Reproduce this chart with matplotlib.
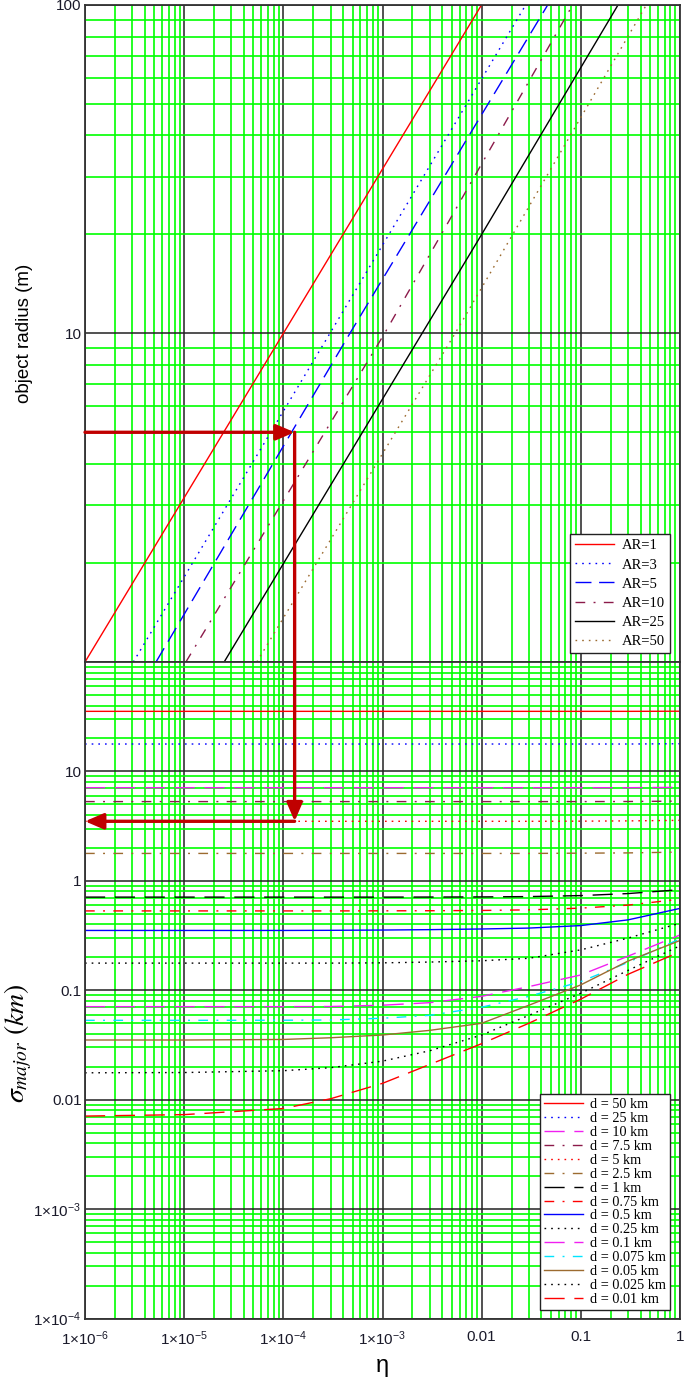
"""
Two-panel log-log chart: object radius vs eta (top) and sigma_major vs eta (bottom),
drawn in the Mathcad look (green minor grid, black decade grid).

    python plot.py   ->  out.png
"""

import matplotlib

matplotlib.use("Agg")
import matplotlib.pyplot as plt
from matplotlib.patches import ConnectionPatch
from matplotlib.ticker import FixedLocator, NullFormatter

plt.rcParams["font.family"] = ["Liberation Sans", "DejaVu Sans"]
plt.rcParams["mathtext.fontset"] = "custom"
plt.rcParams["mathtext.rm"] = "Liberation Sans"
plt.rcParams["mathtext.it"] = "Liberation Sans:italic"

# -- top panel: object radius (m) for each aspect ratio ---------------------
ar_labels = ["AR=1", "AR=3", "AR=5", "AR=10", "AR=25", "AR=50"]
ar1_eta, ar1_radius = [1e-6, 1e-4, 1e-2], [1, 10, 100]
ar3_eta, ar3_radius = [3.07e-6, 2.95e-4, 0.0279], [1, 10, 100]
ar5_eta, ar5_radius = [5.2e-6, 4.69e-4, 0.0465], [1, 10, 100]
ar10_eta, ar10_radius = [1.04e-5, 1.05e-3, 0.083], [1, 10, 100]
ar25_eta, ar25_radius = [2.53e-5, 0.01, 0.238], [1, 20, 100]
ar50_eta, ar50_radius = [5.4e-5, 5.4e-3, 0.459], [1, 10, 100]

# -- bottom panel: sigma_major (km) for each distance d ----------------------
d_labels = ["d = 50 km", "d = 25 km", "d = 10 km", "d = 7.5 km", "d = 5 km",
            "d = 2.5 km", "d = 1 km", "d = 0.75 km", "d = 0.5 km", "d = 0.25 km",
            "d = 0.1 km", "d = 0.075 km", "d = 0.05 km", "d = 0.025 km",
            "d = 0.01 km"]
eta_grid = [1e-6, 1e-5, 1e-4, 3e-4, 1e-3, 3e-3, 1e-2, 3e-2, 0.1, 0.3, 1.0]
sigma_50km = [35.4, 35.4, 35.4, 35.4, 35.4, 35.4, 35.4, 35.4, 35.4, 35.4, 35.5]
sigma_25km = [17.8, 17.8, 17.8, 17.8, 17.8, 17.8, 17.8, 17.8, 17.8, 17.8, 17.9]
sigma_10km = [7.1, 7.1, 7.1, 7.1, 7.1, 7.1, 7.1, 7.1, 7.1, 7.1, 7.15]
sigma_7_5km = [5.3, 5.3, 5.3, 5.3, 5.3, 5.3, 5.3, 5.3, 5.3, 5.31, 5.35]
sigma_5km = [3.5, 3.5, 3.5, 3.5, 3.5, 3.5, 3.5, 3.5, 3.51, 3.53, 3.57]
sigma_2_5km = [1.78, 1.78, 1.78, 1.78, 1.78, 1.78, 1.78, 1.78, 1.79, 1.80, 1.83]
sigma_1km = [0.71, 0.71, 0.71, 0.71, 0.71, 0.711, 0.713, 0.718, 0.733, 0.765, 0.83]
sigma_0_75km = [0.531, 0.531, 0.531, 0.531, 0.532, 0.533, 0.536, 0.543, 0.563, 0.60, 0.68]
sigma_0_5km = [0.352, 0.352, 0.352, 0.353, 0.355, 0.358, 0.363, 0.37, 0.39, 0.44, 0.56]
sigma_0_25km = [0.177, 0.177, 0.177, 0.177, 0.178, 0.181, 0.186, 0.196, 0.234, 0.30, 0.41]
sigma_0_1km = [0.0708, 0.0708, 0.0708, 0.071, 0.073, 0.077, 0.088, 0.108, 0.138, 0.205, 0.32]
sigma_0_075km = [0.0531, 0.0531, 0.0532, 0.0535, 0.0555, 0.059, 0.070, 0.088, 0.12, 0.18, 0.295]
sigma_0_05km = [0.0351, 0.0351, 0.0355, 0.0368, 0.039, 0.043, 0.0499, 0.073, 0.112, 0.185, 0.285]
sigma_0_025km = [0.0176, 0.0177, 0.0184, 0.0196, 0.0225, 0.028, 0.039, 0.059, 0.094, 0.152, 0.255]
sigma_0_01km = [0.00708, 0.0073, 0.0083, 0.0102, 0.0141, 0.021, 0.0325, 0.05, 0.083, 0.14, 0.225]

# the worked example drawn with the red arrows
arrow_eta = 1.3e-4
arrow_radius = 5.0
arrow_sigma = 3.5

x_ticks = [1e-6, 1e-5, 1e-4, 1e-3, 1e-2, 0.1, 1]
x_ticklabels = ["1\u00d710$^{-6}$", "1\u00d710$^{-5}$", "1\u00d710$^{-4}$",
                "1\u00d710$^{-3}$", "0.01", "0.1", "1"]
top_yticks = [10, 100]
top_yticklabels = ["10", "100"]
bot_yticks = [1e-4, 1e-3, 0.01, 0.1, 1, 10]
bot_yticklabels = ["1\u00d710$^{-4}$", "1\u00d710$^{-3}$", "0.01", "0.1", "1", "10"]

# -- styles --------------------------------------------------------------------
RED, BLUE, MAGENTA, MAROON = "#FF0000", "#0000FF", "#F020F0", "#8B1A4A"
BROWN, CYAN, BLACK = "#9C6B30", "#00E5FF", "#000000"
DOT = (0, (1.2, 3.6))
DASH = (0, (14.5, 7.0))
DASHDOT = (0, (7.0, 6.0, 1.4, 6.0))
TOP_DASH = (0, (11.5, 5.5))

ar_styles = [(RED, "-"), (BLUE, DOT), (BLUE, TOP_DASH), (MAROON, DASHDOT),
             (BLACK, "-"), (BROWN, DOT)]
d_styles = [(RED, "-"), (BLUE, DOT), (MAGENTA, DASH), (MAROON, DASHDOT),
            (RED, DOT), (BROWN, DASHDOT), (BLACK, DASH), (RED, DASHDOT),
            (BLUE, "-"), (BLACK, DOT), (MAGENTA, DASH), (CYAN, DASHDOT),
            (BROWN, "-"), (BLACK, DOT), (RED, DASH)]

GRID_GREEN = "#00FF00"
ARROW_RED = "#C00000"
minor_subs = [2, 3, 4, 5, 6, 7, 8, 9]


def _mathcad_axes(ax, y_decades):
    ax.set_xscale("log")
    ax.set_yscale("log")
    ax.set_xlim(1e-6, 1)
    x_minor = [m * 10.0 ** e for e in range(-6, 0) for m in minor_subs]
    y_minor = [m * 10.0 ** e for e in y_decades for m in minor_subs]
    ax.xaxis.set_minor_locator(FixedLocator(x_minor))
    ax.yaxis.set_minor_locator(FixedLocator(y_minor))
    ax.xaxis.set_minor_formatter(NullFormatter())
    ax.yaxis.set_minor_formatter(NullFormatter())
    ax.grid(which="minor", color=GRID_GREEN, lw=1.2)
    ax.grid(which="major", color="#222222", lw=1.1)
    ax.set_axisbelow(True)
    ax.tick_params(which="both", length=0, labelsize=11, labelcolor="#1a1a2a")
    ax.tick_params(axis="y", pad=2.5)
    ax.tick_params(axis="x", pad=8)
    for s in ax.spines.values():
        s.set_color("#333333")
        s.set_linewidth(1.3)


fig = plt.figure(figsize=(6.85, 13.9), dpi=100)
left, right = 85 / 685, 680 / 685
ax_top = fig.add_axes([left, 1 - 662 / 1390, right - left, (662 - 4.7) / 1390])
ax_bot = fig.add_axes([left, 1 - 1318.5 / 1390, right - left, (1318.5 - 662) / 1390])

# top panel
_mathcad_axes(ax_top, [0, 1])
ax_top.set_ylim(1, 100)
top_series = [(ar1_eta, ar1_radius), (ar3_eta, ar3_radius), (ar5_eta, ar5_radius),
              (ar10_eta, ar10_radius), (ar25_eta, ar25_radius),
              (ar50_eta, ar50_radius)]
for (eta, rad), (c, ls), lab in zip(top_series, ar_styles, ar_labels):
    ax_top.plot(eta, rad, color=c, ls=ls, lw=1.0, label=lab)
ax_top.set_xticks(x_ticks)
ax_top.set_xticklabels([])
ax_top.set_yticks(top_yticks)
ax_top.set_yticklabels(top_yticklabels)
ax_top.set_ylabel("object radius (m)", fontsize=13.5)
ax_top.yaxis.set_label_coords(-0.088, 0.5)
leg = ax_top.legend(loc="lower right", bbox_to_anchor=(0.983, 0.014),
                    borderaxespad=0, prop={"family": "Liberation Serif", "size": 10.5},
                    handlelength=2.7, handletextpad=0.5, labelspacing=0.4,
                    borderpad=0.35, fancybox=False, framealpha=1)
leg.get_frame().set_edgecolor("#222222")
leg.get_frame().set_linewidth(1.0)

# bottom panel
_mathcad_axes(ax_bot, [-4, -3, -2, -1, 0, 1])
ax_bot.set_ylim(1e-4, 100)
bottom_series = [sigma_50km, sigma_25km, sigma_10km, sigma_7_5km, sigma_5km,
                 sigma_2_5km, sigma_1km, sigma_0_75km, sigma_0_5km, sigma_0_25km,
                 sigma_0_1km, sigma_0_075km, sigma_0_05km, sigma_0_025km,
                 sigma_0_01km]
for sig, (c, ls), lab in zip(bottom_series, d_styles, d_labels):
    ax_bot.plot(eta_grid, sig, color=c, ls=ls, lw=1.0, label=lab)
ax_bot.set_xticks(x_ticks)
ax_bot.set_xticklabels(x_ticklabels)
ax_bot.set_yticks(bot_yticks)
ax_bot.set_yticklabels(bot_yticklabels)
ax_bot.set_ylabel(r"$\sigma_{major}\ (km)$", fontsize=20, math_fontfamily="stix")
ax_bot.yaxis.set_label_coords(-0.085, 0.42)
ax_bot.set_xlabel("\u03b7", fontsize=17, labelpad=5)
leg = ax_bot.legend(loc="lower right", bbox_to_anchor=(0.984, 0.013),
                    borderaxespad=0, prop={"family": "Liberation Serif", "size": 10.3},
                    handlelength=2.7, handletextpad=0.5, labelspacing=0.06,
                    borderpad=0.3, fancybox=False, framealpha=1)
leg.get_frame().set_edgecolor("#222222")
leg.get_frame().set_linewidth(1.0)

# -- worked example: eta -> radius -> sigma ---------------------------------
arrow_kw = dict(color=ARROW_RED, lw=2.4, shrinkA=0, shrinkB=0, mutation_scale=16,
                arrowstyle="-|>,head_length=0.7,head_width=0.3")
ax_top.annotate("", xy=(arrow_eta, arrow_radius), xytext=(1e-6, arrow_radius),
                arrowprops=arrow_kw)
fig.add_artist(ConnectionPatch(xyA=(arrow_eta, arrow_radius), coordsA=ax_top.transData,
                               xyB=(arrow_eta, arrow_sigma), coordsB=ax_bot.transData,
                               **arrow_kw))
ax_bot.annotate("", xy=(1e-6, arrow_sigma), xytext=(arrow_eta, arrow_sigma),
                arrowprops=arrow_kw)

fig.savefig("out.png", dpi=100)
